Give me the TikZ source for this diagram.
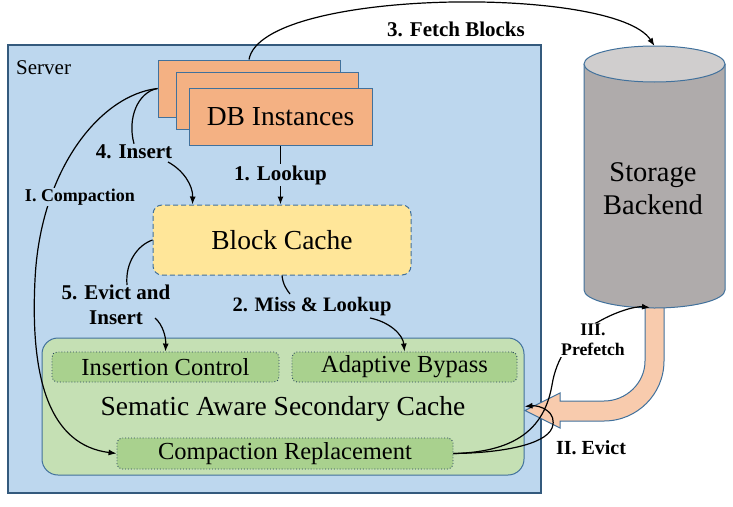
\documentclass[tikz,border=0pt]{standalone}
\usepackage{fontspec}
\setmainfont{Liberation Serif}
\usetikzlibrary{arrows.meta,calc}
\definecolor{serverblue}{HTML}{BDD7EE}
\definecolor{edgeblue}{HTML}{41719C}
\definecolor{dborange}{HTML}{F4B183}
\definecolor{cacheyellow}{HTML}{FFE699}
\definecolor{secgreen}{HTML}{C5E0B4}
\definecolor{innergreen}{HTML}{A9D18E}
\definecolor{cylbody}{HTML}{AFABAB}
\definecolor{cyltop}{HTML}{D0CECE}
\definecolor{arrowpeach}{HTML}{F8CBAD}
\newcommand{\myfs}[1]{\fontsize{#1}{#1}\selectfont}
\begin{document}
\begin{tikzpicture}[x=1pt,y=-1pt,
  box/.style={draw=edgeblue, line width=1pt, inner sep=0pt},
  dbbox/.style={box, fill=dborange, minimum width=182pt, minimum height=57pt},
  inbox/.style={draw=edgeblue!60!black, dotted, line width=0.9pt, rounded corners=5pt, fill=innergreen, inner sep=0pt, minimum height=30pt, font=\myfs{24.5}},
  lbl/.style={font=\bfseries\myfs{21}, inner sep=1pt, align=center},
  conn/.style={line width=1.2pt, -{Latex[length=8pt,width=6pt]}},
  plain/.style={line width=1.2pt}]
\useasboundingbox (0,0) rectangle (733,506);

% server
\node[box, line width=1.3pt, draw=edgeblue!80!black, fill=serverblue, minimum width=533pt, minimum height=448pt] (server) at (274.5,269) {};
\node[anchor=west, font=\myfs{21}, inner sep=0pt] (servertxt) at (16,68) {Server};

% DB instances
\node[dbbox] (db1) at (249,88.5) {};
\node[dbbox] (db2) at (267,101) {};
\node[dbbox, minimum width=183pt, font=\myfs{27.5}] (db3) at (280.5,116.5) {DB Instances};

% block cache
\node[box, dash pattern=on 5pt off 3pt, rounded corners=9pt, fill=cacheyellow, minimum width=258pt, minimum height=70pt, font=\myfs{27.5}] (cache) at (282,240) {Block Cache};

% secondary cache
\node[box, rounded corners=16pt, fill=secgreen, minimum width=482pt, minimum height=137pt] (sec) at (283,406.5) {};
\node[font=\myfs{27.5}, inner sep=0pt] (sectxt) at (283,409) {Sematic Aware Secondary Cache};
\node[inbox, minimum width=227pt] (ic) at (165.5,367) {Insertion Control};
\node[inbox, minimum width=225pt] (ab) at (404.5,367) {Adaptive Bypass};
\node[inbox, minimum width=336pt, minimum height=31pt] (cr) at (285,453.5) {Compaction Replacement};

% big arrow
\draw[draw=edgeblue, line width=1pt, fill=arrowpeach] (645,295) -- (645,361) .. controls (645,383.1) and (626.1,401) .. (604,401) -- (560,401) -- (560,393) -- (525,410.5) -- (560,428) -- (560,421) -- (604,421) .. controls (637.1,421) and (664,394.1) .. (664,361) -- (664,295) -- cycle;

% storage cylinder
\fill[cylbody] (584,64) -- (584,290) .. controls (584,299.94) and (615.56,308) .. (654.5,308) .. controls (693.44,308) and (725,299.94) .. (725,290) -- (725,64) -- cycle;
\draw[edgeblue, line width=1pt] (584,64) -- (584,290) .. controls (584,299.94) and (615.56,308) .. (654.5,308) .. controls (693.44,308) and (725,299.94) .. (725,290) -- (725,64);
\draw[edgeblue, line width=1pt, fill=cyltop] (654.5,64) ellipse [x radius=70.5, y radius=18];
\coordinate (cyltopc) at (654.5,46);
\coordinate (cylbot) at (650,307.5);
\node[font=\fontsize{28.5}{33}\selectfont, align=center, inner sep=0pt] (stor) at (653,189) {Storage\\Backend};

% 1. Lookup
\draw[conn] (db3.south) -- (db3.south |- cache.north) node[midway, lbl, fill=serverblue] (l1) {1. Lookup};

% 4. Insert
\node[lbl] (ins) at (134,152) {4. Insert};
\draw[plain] (db1.west) .. controls (138,92) and (127,118) .. (ins.north);
\coordinate (ins2) at (168,162);
\draw[conn] (ins2) .. controls (183,170) and (193,185) .. ($(cache.north west)+(40,0)$);

% I. Compaction
\draw[conn] (db1.west) .. controls (100,95) and (40,170) .. (35,280) .. controls (30,380) and (50,445) .. (cr.west);
\node[lbl, font=\bfseries\myfs{18}, fill=serverblue] (comp) at (80,197) {I. Compaction};

% 5. Evict and Insert
\node[lbl, font=\bfseries\fontsize{21}{25}\selectfont] (ev) at (116,305) {5. Evict and\\Insert};
\coordinate (ev1) at (127,285);
\coordinate (ev2) at (155,318);
\draw[plain] (cache.west) .. controls (138,245) and (125,262) .. (ev1);
\draw[conn] (ev2) .. controls (163,325) and (166,337) .. (ic.north);

% 2. Miss & Lookup
\node[lbl, font=\bfseries\myfs{20.5}] (miss) at (312,307) {2. Miss \& Lookup};
\coordinate (ms1) at (290,294);
\coordinate (ms2) at (370,318);
\draw[plain] (cache.south) .. controls (283,285) and (287,290) .. (ms1);
\draw[conn] (ms2) .. controls (390,322) and (403,335) .. (ab.north);

% 3. Fetch Blocks
\draw[conn] (db1.north) .. controls (262,-12) and (615,-15) .. (cyltopc);
\node[lbl] (fetch) at (456,29) {3. Fetch Blocks};

% II. Evict
\draw[conn] (cr.east) .. controls (500,453) and (545,445) .. (552,428) .. controls (558,412) and (540,405) .. (sec.east);
\node[lbl, font=\bfseries\myfs{20}] (evict2) at (591,448) {II. Evict};

% III. Prefetch
\draw[conn] (cr.east) .. controls (520,452) and (545,425) .. (552,385) .. controls (556,360) and (570,335) .. (598,322) .. controls (615,312) and (635,306) .. (cylbot);
\node[lbl, font=\bfseries\fontsize{17.7}{20}\selectfont, fill=white] (pf) at (593,340) {III.\\Prefetch};
\end{tikzpicture}
\end{document}
